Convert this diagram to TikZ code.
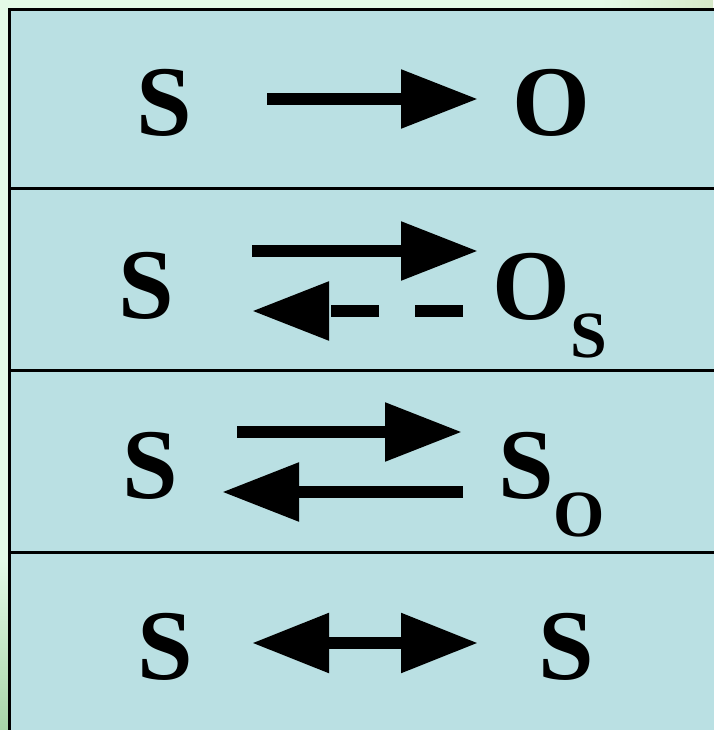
\documentclass[tikz,border=0pt]{standalone}
\usepackage{fontspec}
\setmainfont{Liberation Serif}
\usetikzlibrary{arrows.meta}
\definecolor{boxfill}{RGB}{186,224,227}
\definecolor{mint}{RGB}{228,250,231}
\definecolor{leafgreen}{RGB}{168,212,168}
\definecolor{leafpale}{RGB}{214,232,200}
\newcommand{\subdown}[1]{\raisebox{-38pt}{\fontsize{66}{66}\selectfont #1}}
\begin{document}
\begin{tikzpicture}[x=1pt,y=-1pt,
  lbl/.style={inner sep=0pt, anchor=base, font=\fontsize{100}{100}\selectfont\bfseries},
  lblw/.style={inner sep=0pt, anchor=base west, font=\fontsize{100}{100}\selectfont\bfseries},
  rxn/.style={line width=12pt, -{Triangle[length=77pt,width=56pt]}},
  rxnboth/.style={line width=12pt, {Triangle[length=77pt,width=57pt]}-{Triangle[length=77pt,width=57pt]}},
  rowline/.style={line width=3pt, black}
]
\useasboundingbox (0,0) rectangle (713,730);
% background
\fill[mint] (0,0) rectangle (713,730);
\shade[top color=mint, bottom color=leafgreen] (0,560) rectangle (9,730);
\shade[left color=mint, right color=leafpale] (600,0) rectangle (713,8);
% box
\fill[boxfill] (9,9) rectangle (720,740);
\draw[rowline] (9.5,740) -- (9.5,9.5) -- (720,9.5);
\draw[rowline] (9.5,188) -- (720,188);
\draw[rowline] (9.5,370) -- (720,370);
\draw[rowline] (9.5,552) -- (720,552);

% row 1
\node[lbl] (s1) at (164,136) {S};
\node[lbl] (o1) at (551.5,136) {O};
\coordinate (a1s) at (267,99);
\coordinate (a1e) at (478,99);
\draw[rxn] (a1s) -- (a1e);

% row 2
\node[lbl] (s2) at (146,318) {S};
\node[lblw] (o2) at (492.5,319) {O\subdown{S}};
\coordinate (a2s) at (252,251);
\coordinate (a2e) at (478,251);
\draw[rxn] (a2s) -- (a2e);
\coordinate (b2s) at (463,311);
\coordinate (b2e) at (252,311);
\draw[rxn, dash pattern=on 48pt off 36pt] (b2s) -- (b2e);

% row 3
\node[lbl] (s3) at (150.5,498) {S};
\node[lblw] (o3) at (498,498.5) {S\subdown{O}};
\coordinate (a3s) at (237,432);
\coordinate (a3e) at (462,432);
\draw[rxn] (a3s) -- (a3e);
\coordinate (b3s) at (463,492);
\coordinate (b3e) at (222,492);
\draw[rxn] (b3s) -- (b3e);

% row 4
\node[lbl] (s4) at (165.5,679) {S};
\node[lbl] (t4) at (566.5,679) {S};
\coordinate (a4s) at (252,643);
\coordinate (a4e) at (478,643);
\draw[rxnboth] (a4s) -- (a4e);
\end{tikzpicture}
\end{document}
